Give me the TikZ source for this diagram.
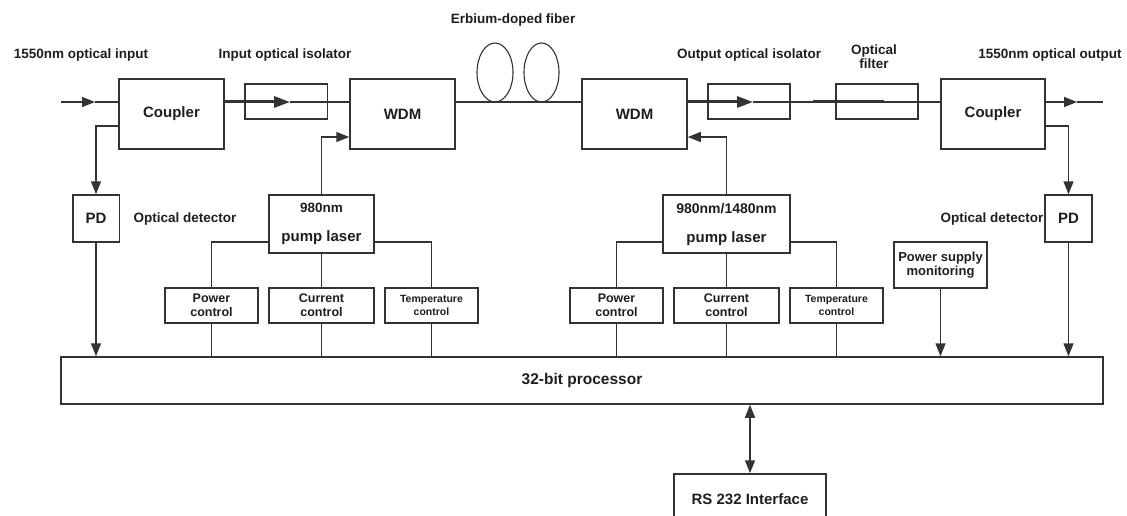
\documentclass[tikz,border=0pt]{standalone}
\usepackage{fontspec}
\setmainfont{Liberation Sans}
\usetikzlibrary{arrows, arrows.meta}
\usetikzlibrary{shapes.geometric}

\definecolor{linegray}{HTML}{333333}
\definecolor{textgray}{HTML}{1E1E1E}

\begin{document}
\begin{tikzpicture}[x=1pt, y=-1pt, line width=1.5pt, draw=linegray,
    >={Triangle[length=13pt, width=10pt]},
    blk/.style={draw, fill=white, inner sep=0pt, text=textgray, align=center, font=\bfseries\fontsize{15}{17}\selectfont},
    ctl/.style={blk, minimum height=35pt, font=\bfseries\fontsize{12.5}{14}\selectfont},
    tag/.style={inner sep=0pt, text=textgray, align=center, font=\bfseries\fontsize{13.5}{14}\selectfont},
    fiber/.style={draw, ellipse, inner sep=0pt, line width=1.1pt, minimum height=59pt},
    thick line/.style={line width=3pt, -{Triangle[length=16pt, width=11pt]}}]

      \useasboundingbox (0, 0) rectangle (1127, 516);
      \clip (0, 0) rectangle (1127, 516);

      \node[blk, minimum width=105pt, minimum height=70pt] (cplA) at (171.5, 114) {Coupler};
      \node[blk, minimum width=46.5pt, minimum height=47pt] (pdA) at (96, 218.5) {PD};
      \node[blk, minimum width=82.5pt, minimum height=35pt] (isoA) at (286, 101.5) {};
      \node[blk, minimum width=105pt, minimum height=70pt] (wdmA) at (402.5, 114) {WDM};
      \node[blk, minimum width=105pt, minimum height=58pt, font=\bfseries\fontsize{15}{29}\selectfont] (pumpA) at (321.5, 224) {{\fontsize{13.5}{29}\selectfont 980nm}\\pump laser};

      \node[ctl, minimum width=93pt] (powA) at (211.5, 305.5) {Power\\control};
      \node[ctl, minimum width=105pt] (curA) at (321.5, 305.5) {Current\\control};
      \node[ctl, minimum width=93pt, font=\bfseries\fontsize{10.5}{12.5}\selectfont] (tmpA) at (431.5, 305.5) {Temperature\\control};

      \node[fiber, minimum width=36pt] (fibA) at (495, 72.5) {};
      \node[fiber, minimum width=35pt] (fibB) at (541.5, 72.5) {};

      \node[blk, minimum width=105pt, minimum height=70pt] (wdmB) at (634.5, 114) {WDM};
      \node[blk, minimum width=82pt, minimum height=35pt] (isoB) at (749, 101.5) {};
      \node[blk, minimum width=82pt, minimum height=35pt] (filt) at (877, 101.5) {};
      \node[blk, minimum width=104pt, minimum height=70pt] (cplB) at (993, 114) {Coupler};
      \node[blk, minimum width=47pt, minimum height=47pt] (pdB) at (1068.5, 218.5) {PD};
      \node[blk, minimum width=127pt, minimum height=58pt, font=\bfseries\fontsize{15}{29}\selectfont] (pumpB) at (726.5, 224) {{\fontsize{14}{29}\selectfont 980nm/1480nm}\\pump laser};

      \node[ctl, minimum width=93pt] (powB) at (616.5, 305.5) {Power\\control};
      \node[ctl, minimum width=105pt] (curB) at (726.5, 305.5) {Current\\control};
      \node[ctl, minimum width=93pt, font=\bfseries\fontsize{10.5}{12.5}\selectfont] (tmpB) at (836.5, 305.5) {Temperature\\control};
      \node[blk, minimum width=93pt, minimum height=46pt, font=\bfseries\fontsize{13}{14.5}\selectfont] (psm) at (940.5, 265) {Power supply\\monitoring};

      \node[blk, minimum width=1042pt, minimum height=47pt, font=\bfseries\fontsize{15.5}{17}\selectfont] (cpu) at (582, 380.5) {32-bit processor};
      \node[blk, minimum width=152pt, minimum height=50pt] (rs) at (750, 499) {RS 232 Interface};

      \node[tag] (inLbl) at (81, 55) {1550nm optical input};
      \node[tag] (isoALbl) at (285, 55) {Input optical isolator};
      \node[tag] (fibLbl) at (513, 20) {Erbium-doped fiber};
      \node[tag] (isoBLbl) at (749, 55) {Output optical isolator};
      \node[tag] (filtLbl) at (874, 57) {Optical\\filter};
      \node[tag] (outLbl) at (1050, 55) {1550nm optical output};
      \node[tag] (detALbl) at (185, 219) {Optical detector};
      \node[tag] (detBLbl) at (992, 219) {Optical detector};

      \coordinate (inStart) at (61, 102);
      \coordinate (inTip) at (95, 102);
      \coordinate (isoATip) at (290, 102);
      \coordinate (isoBTip) at (753, 102);
      \coordinate (filtA) at (813, 102);
      \coordinate (filtB) at (884, 102);
      \coordinate (outTip) at (1077, 102);
      \coordinate (outEnd) at (1103, 102);

      \draw[->] (inStart) -- (inTip);
      \draw (inTip) -- (cplA.west |- inTip);
      \draw[thick line] (cplA.east |- inTip) -- (isoATip);
      \draw (isoATip) -- (wdmA.west |- inTip);
      \draw (wdmA.east |- inTip) -- (wdmB.west |- inTip);
      \draw[thick line] (wdmB.east |- inTip) -- (isoBTip);
      \draw (isoBTip) -- (cplB.west |- inTip);
      \draw[line width=3pt] (filtA) -- (filtB);
      \draw[->] (cplB.east |- inTip) -- (outTip);
      \draw (outTip) -- (outEnd);

      \draw[->] ([yshift=-12pt]cplA.west) -| (pdA.north);
      \draw[->] ([yshift=-12pt]cplB.east) -| (pdB.north);
      \draw[->] (pumpA.north) |- ([yshift=-23pt]wdmA.west);
      \draw[->] (pumpB.north) |- ([yshift=-23pt]wdmB.east);

      \draw ([yshift=-18pt]pumpA.west) -| (powA.north);
      \draw ([yshift=-18pt]pumpA.east) -| (tmpA.north);
      \draw (pumpA.south) -- (curA.north);
      \draw ([yshift=-18pt]pumpB.west) -| (powB.north);
      \draw ([yshift=-18pt]pumpB.east) -| (tmpB.north);
      \draw (pumpB.south) -- (curB.north);

      \foreach \unit in {powA, curA, tmpA, powB, curB, tmpB}
        \draw (\unit.south) -- (\unit.south |- cpu.north);
      \foreach \unit in {pdA, pdB, psm}
        \draw[->] (\unit.south) -- (\unit.south |- cpu.north);

      \draw[<->] (rs.north) -- (rs.north |- cpu.south);
    \end{tikzpicture}
\end{document}
